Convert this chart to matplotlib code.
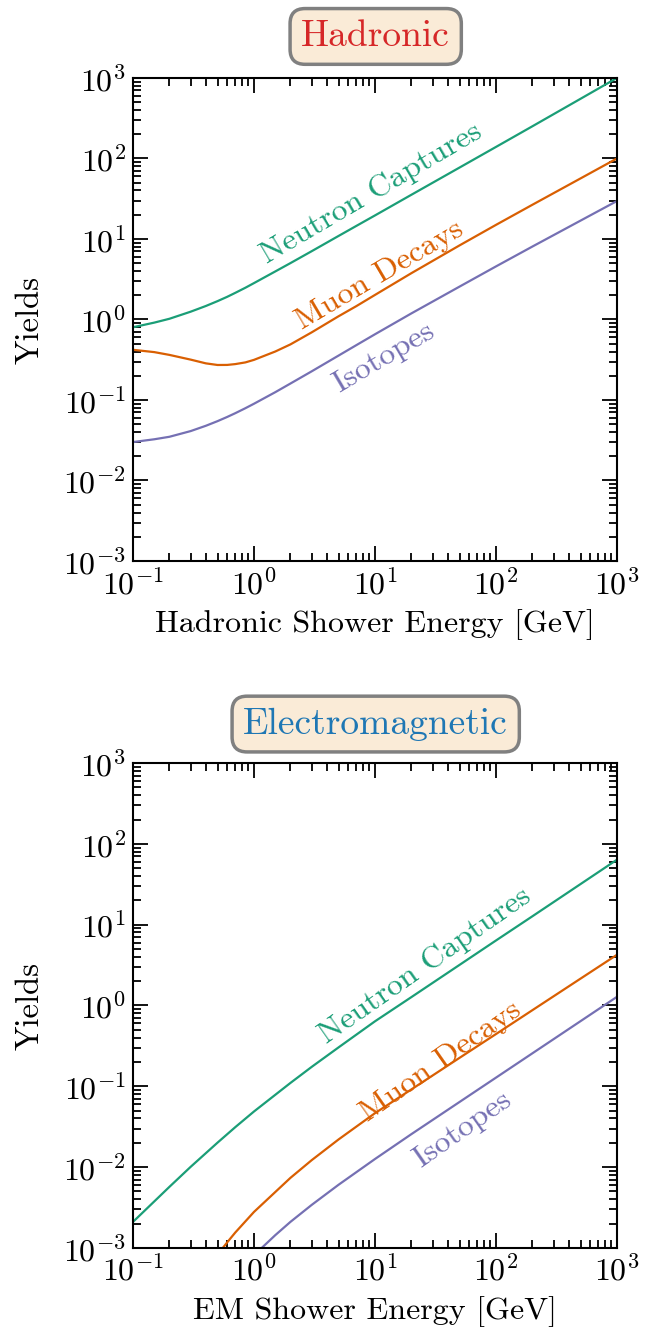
import numpy as np
import matplotlib
matplotlib.use('Agg')
import matplotlib.pyplot as plt
from matplotlib.ticker import LogLocator, NullFormatter

plt.rcParams['font.family'] = 'serif'
plt.rcParams['font.serif'] = ['cmr10', 'DejaVu Serif']
plt.rcParams['mathtext.fontset'] = 'cm'
plt.rcParams['axes.formatter.use_mathtext'] = True
plt.rcParams['axes.unicode_minus'] = False

# ---- data (GeV vs yields) ----
had_energy = [0.1, 0.15, 0.2, 0.3, 0.4, 0.5, 0.6, 0.7, 0.85, 1, 1.5, 2, 3, 5, 7, 10,
              20, 50, 100, 200, 500, 1000]
had_neutron = [0.8, 0.914, 1.02, 1.25, 1.47, 1.69, 1.91, 2.14, 2.48, 2.83, 3.95, 5.01,
               7.05, 10.9, 14.5, 19.6, 35.4, 77.1, 139, 251, 551, 1000]
had_muon    = [0.42, 0.393, 0.363, 0.317, 0.285, 0.272, 0.2725, 0.279, 0.293, 0.315,
               0.40, 0.49, 0.692, 1.096, 1.462, 2.018, 3.76, 8.32, 14.96, 26.6, 56.5, 100]
had_iso     = [0.030, 0.0325, 0.0349, 0.0411, 0.0478, 0.0546, 0.0615, 0.0685, 0.0791,
               0.0898, 0.125, 0.160, 0.227, 0.356, 0.479, 0.655, 1.19, 2.56, 4.56, 8.05,
               16.9, 29.6]

em_energy     = [0.1, 0.2, 0.3, 0.5, 0.7, 1, 2, 3, 5, 10, 20, 50, 100, 200, 500, 1000]
em_energy_mu  = [0.5, 0.6, 0.7, 1, 2, 3, 5, 10, 20, 50, 100, 200, 500, 1000]
em_energy_iso = [1.1, 1.5, 2, 3, 5, 10, 20, 50, 100, 200, 500, 1000]
em_neutron = [0.0021, 0.0057, 0.0101, 0.0201, 0.0312, 0.0488, 0.110, 0.174, 0.303, 0.637,
              1.27, 3.18, 6.37, 12.7, 31.8, 63.7]
em_muon    = [0.00083, 0.00117, 0.00155, 0.00279, 0.00736, 0.0122, 0.022, 0.0465, 0.0916,
              0.225, 0.443, 0.875, 2.15, 4.24]
em_iso     = [0.00093, 0.00144, 0.0021, 0.00341, 0.00605, 0.0126, 0.0256, 0.064, 0.128,
              0.256, 0.64, 1.28]

C_N, C_M, C_I = '#1b9e77', '#d95f02', '#7570b3'
LABELS = ['Neutron Captures', 'Muon Decays', 'Isotopes']

fig = plt.figure(figsize=(6.5, 13.3), dpi=100)
ax1 = fig.add_axes([0.2046, 0.5782, 0.7446, 0.3632])
ax2 = fig.add_axes([0.2046, 0.0617, 0.7446, 0.3646])


def style(ax, xlabel):
    ax.set_xscale('log'); ax.set_yscale('log')
    ax.set_xlim(0.1, 1000); ax.set_ylim(1e-3, 1e3)
    ax.xaxis.set_major_locator(LogLocator(base=10, numticks=20))
    ax.yaxis.set_major_locator(LogLocator(base=10, numticks=20))
    for a in (ax.xaxis, ax.yaxis):
        a.set_minor_locator(LogLocator(base=10, subs=np.arange(2, 10), numticks=100))
        a.set_minor_formatter(NullFormatter())
    ax.tick_params(which='both', direction='in', top=True, right=True, labelsize=23, width=1.3)
    ax.tick_params(which='major', length=11, pad=5)
    ax.tick_params(which='minor', length=6)
    for s in ax.spines.values():
        s.set_linewidth(1.5)
    ax.set_xlabel(xlabel, fontsize=23, labelpad=7)
    ax.set_ylabel('Yields', fontsize=23.5, labelpad=13)


# ---- hadronic ----
ax1.plot(had_energy, had_neutron, color=C_N, lw=1.6)
ax1.plot(had_energy, had_muon, color=C_M, lw=1.6)
ax1.plot(had_energy, had_iso, color=C_I, lw=1.6)
style(ax1, 'Hadronic Shower Energy [GeV]')
for (x, y), lab, c in zip([(9.3, 37), (11, 3.6), (11.9, 0.34)], LABELS, [C_N, C_M, C_I]):
    ax1.text(x, y, lab, color=c, fontsize=23, rotation=30.5, rotation_mode='anchor',
             ha='center', va='center')

# ---- electromagnetic ----
ax2.plot(em_energy, em_neutron, color=C_N, lw=1.6)
ax2.plot(em_energy_mu, em_muon, color=C_M, lw=1.6)
ax2.plot(em_energy_iso, em_iso, color=C_I, lw=1.6)
style(ax2, 'EM Shower Energy [GeV]')
for (x, y), lab, c in zip([(26, 3.1), (35, 0.205), (53, 0.029)], LABELS, [C_N, C_M, C_I]):
    ax2.text(x, y, lab, color=c, fontsize=23, rotation=35, rotation_mode='anchor',
             ha='center', va='center')

box = dict(boxstyle='round,pad=0.3,rounding_size=0.4', facecolor='#faebd7',
           edgecolor='gray', linewidth=2.5)
fig.text(0.578, 0.9726, 'Hadronic', color='#d62728', fontsize=27, ha='center', va='center', bbox=box)
fig.text(0.578, 0.4556, 'Electromagnetic', color='#1f77b4', fontsize=27, ha='center', va='center', bbox=box)

fig.savefig('out.png', dpi=100)
